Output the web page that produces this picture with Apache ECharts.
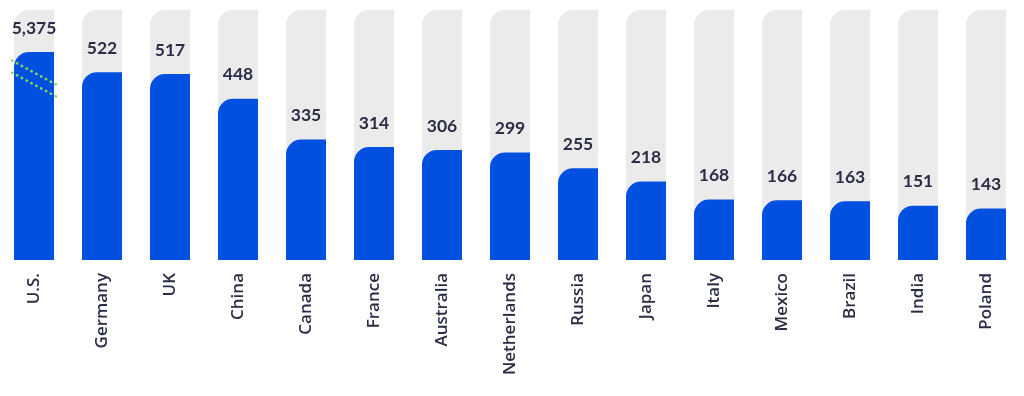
<!DOCTYPE html>
<html><head><meta charset="utf-8">
<script src="https://cdn.jsdelivr.net/npm/echarts@6/dist/echarts.min.js"></script>
<style>html,body{margin:0;padding:0;background:#fff}#c{width:1024px;height:396px}</style>
</head><body><div id="c"></div>
<script>
const countries = ['U.S.','Germany','UK','China','Canada','France','Australia','Netherlands','Russia','Japan','Italy','Mexico','Brazil','India','Poland'];
const values = [5375,522,517,448,335,314,306,299,255,218,168,166,163,151,143];
const breakStart = 560, breakEnd = 5357, axisMax = 5492;

const chart = echarts.init(document.getElementById('c'), null, {renderer: 'canvas'});
chart.setOption({
  animation: false,
  grid: {left: 0, width: 1020, top: 10, bottom: 136, containLabel: false},
  xAxis: {
    type: 'category', data: countries,
    axisLine: {show: false}, axisTick: {show: false},
    axisLabel: {rotate: 90, margin: 13, fontSize: 17, fontWeight: 600, color: '#2a2d45', fontFamily: '"Open Sans", sans-serif'}
  },
  yAxis: {
    type: 'value', min: 0, max: axisMax, show: false, splitLine: {show: false},
    breaks: [{start: breakStart, end: breakEnd, gap: 0}],
    breakArea: {show: false}
  },
  series: [{
    type: 'bar', data: values, barWidth: 40,
    showBackground: true,
    backgroundStyle: {color: '#ebebeb', borderRadius: [15, 0, 0, 0]},
    itemStyle: {color: '#0250e0', borderRadius: [15, 0, 0, 0]},
    label: {
      show: true, position: 'top', distance: 15,
      fontSize: 17.5, fontWeight: 'bold', color: '#2a2d45', fontFamily: 'Lato, sans-serif',
      formatter: p => p.value.toLocaleString('en-US')
    }
  }]
});

// break indicator on the U.S. bar, positioned from the scales
const cx = chart.convertToPixel({xAxisIndex: 0}, countries[0]);
const by = chart.convertToPixel({yAxisIndex: 0}, breakStart);
const mk = (dy) => ({
  type: 'line', z: 100,
  shape: {x1: cx - 22, y1: by + dy, x2: cx + 24, y2: by + dy + 25},
  style: {stroke: '#86d95f', lineWidth: 2.5, lineDash: [0.5, 5], lineCap: 'round'}
});
chart.setOption({graphic: [mk(2), mk(14)]});
</script>
</body></html>
